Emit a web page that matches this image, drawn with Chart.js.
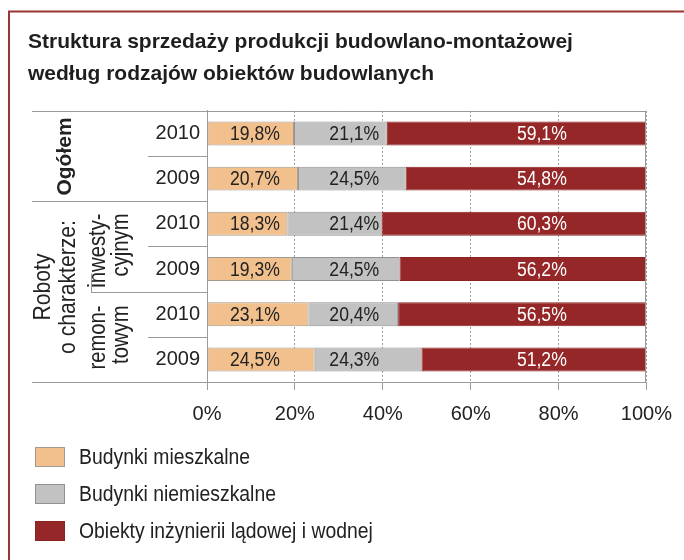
<!DOCTYPE html>
<html lang="pl">
<head>
<meta charset="utf-8">
<title>Struktura sprzedaży produkcji budowlano-montażowej</title>
<script src="https://cdn.jsdelivr.net/npm/chart.js@4.4.1/dist/chart.umd.min.js"></script>
<style>
  html, body { margin: 0; padding: 0; background: #fff; }
  #wrap { width: 684px; height: 560px; }
</style>
</head>
<body>
<div id="wrap"><canvas id="chart" width="684" height="560"></canvas></div>
<script>
// dane (udział w %)
const years = ['2010', '2009', '2010', '2009', '2010', '2009'];
const mieszkalne = [19.8, 20.7, 18.3, 19.3, 23.1, 24.5];
const niemieszkalne = [21.1, 24.5, 21.4, 24.5, 20.4, 24.3];
const inzynieria = [59.1, 54.8, 60.3, 56.2, 56.5, 51.2];
const seriesNames = ['Budynki mieszkalne', 'Budynki niemieszkalne', 'Obiekty inżynierii lądowej i wodnej'];
const xTicks = [0, 20, 40, 60, 80, 100];

const FONT = "'Liberation Sans', Arial, sans-serif";
const TEXT = '#222';
const LINE = '#9a9a9a';
const colors = ['#f2c08d', '#c2c2c2', '#962728'];
const SQUEEZE = 0.88; // no narrow font installed, so squeeze our own text a bit

const fmt = v => v.toFixed(1).replace('.', ',') + '%';

function narrowText(ctx, t, x, y, rot) {
  ctx.save();
  ctx.translate(x, y);
  if (rot) ctx.rotate(rot);
  ctx.scale(SQUEEZE, 1);
  ctx.fillText(t, 0, 0);
  ctx.restore();
}

// frame + left-hand table (group labels)
const tablePlugin = {
  id: 'tabela',
  beforeDraw(chart) {
    const ctx = chart.ctx;
    ctx.save();
    ctx.fillStyle = '#fff';
    ctx.fillRect(0, 0, chart.width, chart.height);
    ctx.strokeStyle = '#9b3636';
    ctx.lineWidth = 2;
    ctx.beginPath();
    ctx.moveTo(9, chart.height);
    ctx.lineTo(9, 11.5);
    ctx.lineTo(chart.width, 11.5);
    ctx.stroke();
    ctx.restore();
  },
  afterDraw(chart) {
    const ctx = chart.ctx;
    const y = chart.scales.y;
    const area = chart.chartArea;
    const step = y.getPixelForValue(1) - y.getPixelForValue(0);
    const b = i => Math.round(y.getPixelForValue(i) - step / 2) + 0.5;

    ctx.save();
    ctx.strokeStyle = LINE;
    ctx.lineWidth = 1;
    const hline = (x0, yy, x1) => {
      ctx.beginPath();
      ctx.moveTo(x0, yy);
      ctx.lineTo(x1, yy);
      ctx.stroke();
    };
    hline(32, b(0), area.right);
    hline(32, b(2), area.left);
    hline(32, b(6), area.left);
    hline(148, b(1), area.left);
    hline(148, b(3), area.left);
    hline(148, b(5), area.left);
    hline(91, b(4), area.left);
    ctx.beginPath();
    ctx.moveTo(91.5, b(4) - 19);
    ctx.lineTo(91.5, b(4));
    ctx.stroke();
    // right edge of plot
    ctx.beginPath();
    ctx.moveTo(Math.round(area.right) - 0.5, b(0));
    ctx.lineTo(Math.round(area.right) - 0.5, b(6));
    ctx.stroke();

    ctx.fillStyle = TEXT;
    ctx.textBaseline = 'middle';
    const up = -Math.PI / 2;

    ctx.font = 'bold 21px ' + FONT;
    ctx.textAlign = 'center';
    ctx.save();
    ctx.translate(65, (b(0) + b(2)) / 2);
    ctx.rotate(up);
    ctx.fillText('Ogółem', 0, 0);
    ctx.restore();

    ctx.font = '24px ' + FONT;
    const mid = (b(2) + b(6)) / 2 - 5;
    narrowText(ctx, 'Roboty', 43, mid, up);
    narrowText(ctx, 'o charakterze:', 68, mid, up);

    ctx.font = '23px ' + FONT;
    ctx.textAlign = 'right';
    narrowText(ctx, 'inwesty-', 99, b(2) + 12, up);
    narrowText(ctx, 'cyjnym', 122, b(2) + 12, up);
    narrowText(ctx, 'remon-', 99, b(4) + 13, up);
    narrowText(ctx, 'towym', 122, b(4) + 13, up);
    ctx.restore();
  }
};

// value labels inside bars
const labelPos = [
  { at: 16.6, align: 'right', color: TEXT },
  { at: 39.2, align: 'right', color: TEXT },
  { at: 76.2, align: 'center', color: '#fff' }
];
const valuePlugin = {
  id: 'wartosci',
  afterDatasetsDraw(chart) {
    const ctx = chart.ctx;
    const x = chart.scales.x;
    ctx.save();
    ctx.font = '20px ' + FONT;
    ctx.textBaseline = 'middle';
    chart.data.datasets.forEach((ds, d) => {
      const meta = chart.getDatasetMeta(d);
      ctx.fillStyle = labelPos[d].color;
      ctx.textAlign = labelPos[d].align;
      meta.data.forEach((bar, i) => {
        narrowText(ctx, fmt(ds.data[i]), x.getPixelForValue(labelPos[d].at), bar.y + 1);
      });
    });
    ctx.restore();
  }
};

// legend stacked one item per row
const legendPlugin = {
  id: 'legenda',
  afterDraw(chart) {
    const ctx = chart.ctx;
    ctx.save();
    ctx.font = '22px ' + FONT;
    ctx.textBaseline = 'middle';
    ctx.textAlign = 'left';
    chart.data.datasets.forEach((ds, d) => {
      const top = 447 + d * 37;
      ctx.fillStyle = ds.backgroundColor;
      ctx.fillRect(35, top, 30, 20);
      ctx.strokeStyle = ds.borderColor;
      ctx.lineWidth = 1;
      ctx.strokeRect(35.5, top + 0.5, 29, 19);
      ctx.fillStyle = TEXT;
      narrowText(ctx, ds.label, 79, top + 11);
    });
    ctx.restore();
  }
};

new Chart(document.getElementById('chart'), {
  type: 'bar',
  data: {
    labels: years,
    datasets: [
      { label: seriesNames[0], data: mieszkalne, backgroundColor: colors[0], borderColor: '#a39b92' },
      { label: seriesNames[1], data: niemieszkalne, backgroundColor: colors[1], borderColor: '#929292' },
      { label: seriesNames[2], data: inzynieria, backgroundColor: colors[2], borderColor: '#8a2222' }
    ]
  },
  options: {
    indexAxis: 'y',
    responsive: false,
    animation: false,
    devicePixelRatio: 1,
    layout: { padding: { left: 28, right: 34, top: 0, bottom: 128 } },
    datasets: {
      bar: { barPercentage: 0.53, categoryPercentage: 1, borderWidth: 1, borderSkipped: false }
    },
    plugins: {
      legend: { display: false },
      tooltip: { enabled: false },
      title: {
        display: true,
        align: 'start',
        text: ['Struktura sprzedaży produkcji budowlano-montażowej', 'według rodzajów obiektów budowlanych'],
        color: '#1e1e1e',
        font: { family: FONT, size: 21, weight: 'bold', lineHeight: 1.52 },
        padding: { top: 26, bottom: 21 }
      }
    },
    scales: {
      x: {
        stacked: true,
        min: 0,
        max: 100,
        afterBuildTicks: s => { s.ticks = xTicks.map(v => ({ value: v })); },
        afterFit: s => { s.height = 50; },
        ticks: {
          callback: v => v + '%',
          color: TEXT,
          padding: 12,
          maxRotation: 0,
          font: { family: FONT, size: 20 }
        },
        grid: {
          color: LINE,
          borderDash: [2, 2],
          tickBorderDash: [],
          tickLength: 8,
          tickColor: LINE
        },
        border: { display: true, color: LINE, dash: [2, 2] }
      },
      y: {
        stacked: true,
        afterFit: s => { s.width = 179; },
        ticks: {
          color: TEXT,
          padding: 7,
          font: { family: FONT, size: 20 }
        },
        grid: { display: false, drawTicks: false },
        border: { display: true, color: LINE }
      }
    }
  },
  plugins: [tablePlugin, valuePlugin, legendPlugin]
});
</script>
</body>
</html>
